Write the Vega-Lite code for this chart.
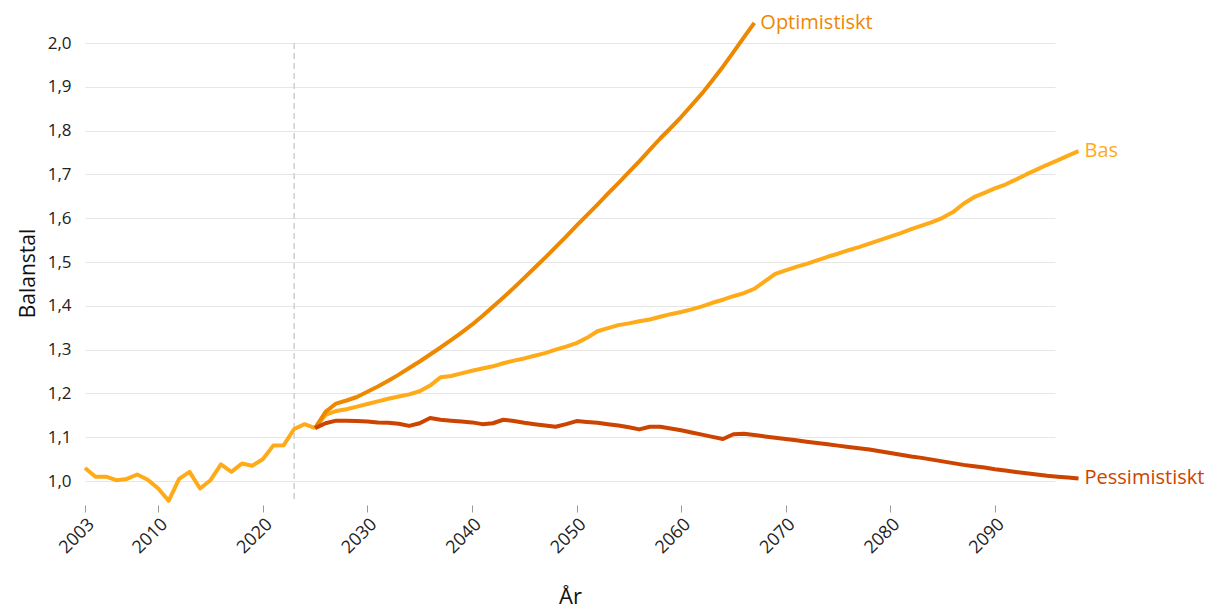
{
  "$schema": "https://vega.github.io/schema/vega-lite/v6.json",
  "width": 970,
  "height": 460,
  "autosize": "none",
  "padding": {"left": 85, "top": 43, "right": 153, "bottom": 106},
  "background": "white",
  "config": {
    "view": {"stroke": null},
    "font": "Open Sans"
  },
  "datasets": {
    "series": [
      {"year": 2003, "serie": "Historik", "value": 1.030},
      {"year": 2004, "serie": "Historik", "value": 1.010},
      {"year": 2005, "serie": "Historik", "value": 1.010},
      {"year": 2006, "serie": "Historik", "value": 1.002},
      {"year": 2007, "serie": "Historik", "value": 1.005},
      {"year": 2008, "serie": "Historik", "value": 1.015},
      {"year": 2009, "serie": "Historik", "value": 1.003},
      {"year": 2010, "serie": "Historik", "value": 0.983},
      {"year": 2011, "serie": "Historik", "value": 0.955},
      {"year": 2012, "serie": "Historik", "value": 1.005},
      {"year": 2013, "serie": "Historik", "value": 1.021},
      {"year": 2014, "serie": "Historik", "value": 0.983},
      {"year": 2015, "serie": "Historik", "value": 1.002},
      {"year": 2016, "serie": "Historik", "value": 1.038},
      {"year": 2017, "serie": "Historik", "value": 1.021},
      {"year": 2018, "serie": "Historik", "value": 1.040},
      {"year": 2019, "serie": "Historik", "value": 1.035},
      {"year": 2020, "serie": "Historik", "value": 1.050},
      {"year": 2021, "serie": "Historik", "value": 1.081},
      {"year": 2022, "serie": "Historik", "value": 1.082},
      {"year": 2023, "serie": "Historik", "value": 1.119},
      {"year": 2024, "serie": "Historik", "value": 1.130},
      {"year": 2025, "serie": "Historik", "value": 1.121},

      {"year": 2025, "serie": "Bas", "value": 1.121},
      {"year": 2026, "serie": "Bas", "value": 1.151},
      {"year": 2027, "serie": "Bas", "value": 1.160},
      {"year": 2028, "serie": "Bas", "value": 1.164},
      {"year": 2029, "serie": "Bas", "value": 1.170},
      {"year": 2030, "serie": "Bas", "value": 1.176},
      {"year": 2031, "serie": "Bas", "value": 1.182},
      {"year": 2032, "serie": "Bas", "value": 1.188},
      {"year": 2033, "serie": "Bas", "value": 1.193},
      {"year": 2034, "serie": "Bas", "value": 1.198},
      {"year": 2035, "serie": "Bas", "value": 1.205},
      {"year": 2036, "serie": "Bas", "value": 1.218},
      {"year": 2037, "serie": "Bas", "value": 1.237},
      {"year": 2038, "serie": "Bas", "value": 1.240},
      {"year": 2039, "serie": "Bas", "value": 1.246},
      {"year": 2040, "serie": "Bas", "value": 1.252},
      {"year": 2041, "serie": "Bas", "value": 1.257},
      {"year": 2042, "serie": "Bas", "value": 1.262},
      {"year": 2043, "serie": "Bas", "value": 1.269},
      {"year": 2044, "serie": "Bas", "value": 1.275},
      {"year": 2045, "serie": "Bas", "value": 1.280},
      {"year": 2046, "serie": "Bas", "value": 1.286},
      {"year": 2047, "serie": "Bas", "value": 1.292},
      {"year": 2048, "serie": "Bas", "value": 1.300},
      {"year": 2049, "serie": "Bas", "value": 1.307},
      {"year": 2050, "serie": "Bas", "value": 1.315},
      {"year": 2051, "serie": "Bas", "value": 1.327},
      {"year": 2052, "serie": "Bas", "value": 1.342},
      {"year": 2053, "serie": "Bas", "value": 1.349},
      {"year": 2054, "serie": "Bas", "value": 1.356},
      {"year": 2055, "serie": "Bas", "value": 1.360},
      {"year": 2056, "serie": "Bas", "value": 1.365},
      {"year": 2057, "serie": "Bas", "value": 1.369},
      {"year": 2058, "serie": "Bas", "value": 1.375},
      {"year": 2059, "serie": "Bas", "value": 1.381},
      {"year": 2060, "serie": "Bas", "value": 1.386},
      {"year": 2061, "serie": "Bas", "value": 1.392},
      {"year": 2062, "serie": "Bas", "value": 1.399},
      {"year": 2063, "serie": "Bas", "value": 1.407},
      {"year": 2064, "serie": "Bas", "value": 1.414},
      {"year": 2065, "serie": "Bas", "value": 1.422},
      {"year": 2066, "serie": "Bas", "value": 1.429},
      {"year": 2067, "serie": "Bas", "value": 1.439},
      {"year": 2068, "serie": "Bas", "value": 1.456},
      {"year": 2069, "serie": "Bas", "value": 1.473},
      {"year": 2070, "serie": "Bas", "value": 1.481},
      {"year": 2071, "serie": "Bas", "value": 1.489},
      {"year": 2072, "serie": "Bas", "value": 1.496},
      {"year": 2073, "serie": "Bas", "value": 1.504},
      {"year": 2074, "serie": "Bas", "value": 1.512},
      {"year": 2075, "serie": "Bas", "value": 1.519},
      {"year": 2076, "serie": "Bas", "value": 1.527},
      {"year": 2077, "serie": "Bas", "value": 1.534},
      {"year": 2078, "serie": "Bas", "value": 1.542},
      {"year": 2079, "serie": "Bas", "value": 1.550},
      {"year": 2080, "serie": "Bas", "value": 1.558},
      {"year": 2081, "serie": "Bas", "value": 1.566},
      {"year": 2082, "serie": "Bas", "value": 1.575},
      {"year": 2083, "serie": "Bas", "value": 1.583},
      {"year": 2084, "serie": "Bas", "value": 1.591},
      {"year": 2085, "serie": "Bas", "value": 1.601},
      {"year": 2086, "serie": "Bas", "value": 1.614},
      {"year": 2087, "serie": "Bas", "value": 1.633},
      {"year": 2088, "serie": "Bas", "value": 1.648},
      {"year": 2089, "serie": "Bas", "value": 1.658},
      {"year": 2090, "serie": "Bas", "value": 1.668},
      {"year": 2091, "serie": "Bas", "value": 1.677},
      {"year": 2092, "serie": "Bas", "value": 1.688},
      {"year": 2093, "serie": "Bas", "value": 1.700},
      {"year": 2094, "serie": "Bas", "value": 1.711},
      {"year": 2095, "serie": "Bas", "value": 1.722},
      {"year": 2096, "serie": "Bas", "value": 1.732},
      {"year": 2097, "serie": "Bas", "value": 1.743},
      {"year": 2098, "serie": "Bas", "value": 1.753},

      {"year": 2025, "serie": "Optimistiskt", "value": 1.121},
      {"year": 2026, "serie": "Optimistiskt", "value": 1.158},
      {"year": 2027, "serie": "Optimistiskt", "value": 1.177},
      {"year": 2028, "serie": "Optimistiskt", "value": 1.184},
      {"year": 2029, "serie": "Optimistiskt", "value": 1.192},
      {"year": 2030, "serie": "Optimistiskt", "value": 1.204},
      {"year": 2031, "serie": "Optimistiskt", "value": 1.216},
      {"year": 2032, "serie": "Optimistiskt", "value": 1.229},
      {"year": 2033, "serie": "Optimistiskt", "value": 1.243},
      {"year": 2034, "serie": "Optimistiskt", "value": 1.258},
      {"year": 2035, "serie": "Optimistiskt", "value": 1.273},
      {"year": 2036, "serie": "Optimistiskt", "value": 1.289},
      {"year": 2037, "serie": "Optimistiskt", "value": 1.305},
      {"year": 2038, "serie": "Optimistiskt", "value": 1.322},
      {"year": 2039, "serie": "Optimistiskt", "value": 1.339},
      {"year": 2040, "serie": "Optimistiskt", "value": 1.357},
      {"year": 2041, "serie": "Optimistiskt", "value": 1.377},
      {"year": 2042, "serie": "Optimistiskt", "value": 1.398},
      {"year": 2043, "serie": "Optimistiskt", "value": 1.419},
      {"year": 2044, "serie": "Optimistiskt", "value": 1.441},
      {"year": 2045, "serie": "Optimistiskt", "value": 1.464},
      {"year": 2046, "serie": "Optimistiskt", "value": 1.487},
      {"year": 2047, "serie": "Optimistiskt", "value": 1.510},
      {"year": 2048, "serie": "Optimistiskt", "value": 1.534},
      {"year": 2049, "serie": "Optimistiskt", "value": 1.558},
      {"year": 2050, "serie": "Optimistiskt", "value": 1.583},
      {"year": 2051, "serie": "Optimistiskt", "value": 1.607},
      {"year": 2052, "serie": "Optimistiskt", "value": 1.631},
      {"year": 2053, "serie": "Optimistiskt", "value": 1.656},
      {"year": 2054, "serie": "Optimistiskt", "value": 1.680},
      {"year": 2055, "serie": "Optimistiskt", "value": 1.705},
      {"year": 2056, "serie": "Optimistiskt", "value": 1.730},
      {"year": 2057, "serie": "Optimistiskt", "value": 1.756},
      {"year": 2058, "serie": "Optimistiskt", "value": 1.782},
      {"year": 2059, "serie": "Optimistiskt", "value": 1.806},
      {"year": 2060, "serie": "Optimistiskt", "value": 1.831},
      {"year": 2061, "serie": "Optimistiskt", "value": 1.858},
      {"year": 2062, "serie": "Optimistiskt", "value": 1.885},
      {"year": 2063, "serie": "Optimistiskt", "value": 1.915},
      {"year": 2064, "serie": "Optimistiskt", "value": 1.946},
      {"year": 2065, "serie": "Optimistiskt", "value": 1.979},
      {"year": 2066, "serie": "Optimistiskt", "value": 2.013},
      {"year": 2067, "serie": "Optimistiskt", "value": 2.046},

      {"year": 2025, "serie": "Pessimistiskt", "value": 1.121},
      {"year": 2026, "serie": "Pessimistiskt", "value": 1.132},
      {"year": 2027, "serie": "Pessimistiskt", "value": 1.138},
      {"year": 2028, "serie": "Pessimistiskt", "value": 1.138},
      {"year": 2029, "serie": "Pessimistiskt", "value": 1.137},
      {"year": 2030, "serie": "Pessimistiskt", "value": 1.136},
      {"year": 2031, "serie": "Pessimistiskt", "value": 1.134},
      {"year": 2032, "serie": "Pessimistiskt", "value": 1.133},
      {"year": 2033, "serie": "Pessimistiskt", "value": 1.131},
      {"year": 2034, "serie": "Pessimistiskt", "value": 1.126},
      {"year": 2035, "serie": "Pessimistiskt", "value": 1.132},
      {"year": 2036, "serie": "Pessimistiskt", "value": 1.144},
      {"year": 2037, "serie": "Pessimistiskt", "value": 1.140},
      {"year": 2038, "serie": "Pessimistiskt", "value": 1.138},
      {"year": 2039, "serie": "Pessimistiskt", "value": 1.136},
      {"year": 2040, "serie": "Pessimistiskt", "value": 1.134},
      {"year": 2041, "serie": "Pessimistiskt", "value": 1.130},
      {"year": 2042, "serie": "Pessimistiskt", "value": 1.132},
      {"year": 2043, "serie": "Pessimistiskt", "value": 1.140},
      {"year": 2044, "serie": "Pessimistiskt", "value": 1.137},
      {"year": 2045, "serie": "Pessimistiskt", "value": 1.133},
      {"year": 2046, "serie": "Pessimistiskt", "value": 1.130},
      {"year": 2047, "serie": "Pessimistiskt", "value": 1.127},
      {"year": 2048, "serie": "Pessimistiskt", "value": 1.124},
      {"year": 2049, "serie": "Pessimistiskt", "value": 1.130},
      {"year": 2050, "serie": "Pessimistiskt", "value": 1.137},
      {"year": 2051, "serie": "Pessimistiskt", "value": 1.135},
      {"year": 2052, "serie": "Pessimistiskt", "value": 1.133},
      {"year": 2053, "serie": "Pessimistiskt", "value": 1.130},
      {"year": 2054, "serie": "Pessimistiskt", "value": 1.127},
      {"year": 2055, "serie": "Pessimistiskt", "value": 1.123},
      {"year": 2056, "serie": "Pessimistiskt", "value": 1.118},
      {"year": 2057, "serie": "Pessimistiskt", "value": 1.124},
      {"year": 2058, "serie": "Pessimistiskt", "value": 1.124},
      {"year": 2059, "serie": "Pessimistiskt", "value": 1.120},
      {"year": 2060, "serie": "Pessimistiskt", "value": 1.116},
      {"year": 2061, "serie": "Pessimistiskt", "value": 1.111},
      {"year": 2062, "serie": "Pessimistiskt", "value": 1.106},
      {"year": 2063, "serie": "Pessimistiskt", "value": 1.101},
      {"year": 2064, "serie": "Pessimistiskt", "value": 1.096},
      {"year": 2065, "serie": "Pessimistiskt", "value": 1.107},
      {"year": 2066, "serie": "Pessimistiskt", "value": 1.108},
      {"year": 2067, "serie": "Pessimistiskt", "value": 1.105},
      {"year": 2068, "serie": "Pessimistiskt", "value": 1.102},
      {"year": 2069, "serie": "Pessimistiskt", "value": 1.099},
      {"year": 2070, "serie": "Pessimistiskt", "value": 1.096},
      {"year": 2071, "serie": "Pessimistiskt", "value": 1.093},
      {"year": 2072, "serie": "Pessimistiskt", "value": 1.090},
      {"year": 2073, "serie": "Pessimistiskt", "value": 1.087},
      {"year": 2074, "serie": "Pessimistiskt", "value": 1.084},
      {"year": 2075, "serie": "Pessimistiskt", "value": 1.081},
      {"year": 2076, "serie": "Pessimistiskt", "value": 1.078},
      {"year": 2077, "serie": "Pessimistiskt", "value": 1.075},
      {"year": 2078, "serie": "Pessimistiskt", "value": 1.072},
      {"year": 2079, "serie": "Pessimistiskt", "value": 1.068},
      {"year": 2080, "serie": "Pessimistiskt", "value": 1.064},
      {"year": 2081, "serie": "Pessimistiskt", "value": 1.060},
      {"year": 2082, "serie": "Pessimistiskt", "value": 1.056},
      {"year": 2083, "serie": "Pessimistiskt", "value": 1.053},
      {"year": 2084, "serie": "Pessimistiskt", "value": 1.049},
      {"year": 2085, "serie": "Pessimistiskt", "value": 1.045},
      {"year": 2086, "serie": "Pessimistiskt", "value": 1.041},
      {"year": 2087, "serie": "Pessimistiskt", "value": 1.037},
      {"year": 2088, "serie": "Pessimistiskt", "value": 1.034},
      {"year": 2089, "serie": "Pessimistiskt", "value": 1.031},
      {"year": 2090, "serie": "Pessimistiskt", "value": 1.027},
      {"year": 2091, "serie": "Pessimistiskt", "value": 1.024},
      {"year": 2092, "serie": "Pessimistiskt", "value": 1.021},
      {"year": 2093, "serie": "Pessimistiskt", "value": 1.018},
      {"year": 2094, "serie": "Pessimistiskt", "value": 1.015},
      {"year": 2095, "serie": "Pessimistiskt", "value": 1.012},
      {"year": 2096, "serie": "Pessimistiskt", "value": 1.010},
      {"year": 2097, "serie": "Pessimistiskt", "value": 1.008},
      {"year": 2098, "serie": "Pessimistiskt", "value": 1.006}
    ],
    "marker": [{"year": 2023}]
  },
  "layer": [
    {
      "data": {"name": "marker"},
      "mark": {"type": "rule", "color": "#cfcfcf", "strokeWidth": 1.5, "strokeDash": [6, 4]},
      "encoding": {
        "x": {"field": "year", "type": "quantitative", "scale": {"domain": [2003, 2095.75], "nice": false, "zero": false}}
      }
    },
    {
      "data": {"name": "series"},
      "mark": {"type": "line", "strokeWidth": 4, "clip": false, "strokeJoin": "round", "strokeCap": "butt"},
      "encoding": {
        "x": {
          "field": "year", "type": "quantitative",
          "scale": {"domain": [2003, 2095.75], "nice": false, "zero": false},
          "axis": {
            "title": "År", "titleFont": "Open Sans", "titleFontSize": 22, "titleFontWeight": "normal", "titleColor": "#111",
            "titlePadding": 30,
            "values": [2003, 2010, 2020, 2030, 2040, 2050, 2060, 2070, 2080, 2090],
            "format": "d", "labelAngle": -45, "labelFontSize": 18, "labelColor": "#222", "labelFont": "Open Sans",
            "grid": false, "domain": false, "ticks": true, "tickColor": "#999", "tickSize": 7, "tickWidth": 1, "tickOffset": 0,
            "offset": 2, "labelPadding": 3
          }
        },
        "y": {
          "field": "value", "type": "quantitative",
          "scale": {"domain": [0.95, 2.0], "nice": false, "zero": false},
          "axis": {
            "title": "Balanstal", "titleFont": "Open Sans", "titleFontSize": 21, "titleFontWeight": "normal", "titleColor": "#111",
            "titlePadding": 9,
            "values": [1.0, 1.1, 1.2, 1.3, 1.4, 1.5, 1.6, 1.7, 1.8, 1.9, 2.0],
            "labelExpr": "replace(format(datum.value, '.1f'), '.', ',')",
            "labelFontSize": 17, "labelColor": "#222", "labelFont": "Open Sans", "labelPadding": 14,
            "grid": true, "gridColor": "#e6e6e6", "gridWidth": 1.2,
            "domain": false, "ticks": false
          }
        },
        "color": {
          "field": "serie", "type": "nominal", "legend": null,
          "scale": {"domain": ["Historik", "Bas", "Optimistiskt", "Pessimistiskt"], "range": ["#FFAB19", "#FFAB19", "#EE8800", "#CC4400"]}
        }
      }
    },
    {
      "data": {"name": "series"},
      "transform": [
        {"filter": "datum.serie !== 'Historik'"},
        {"joinaggregate": [{"op": "max", "field": "year", "as": "maxYear"}], "groupby": ["serie"]},
        {"filter": "datum.year === datum.maxYear"}
      ],
      "mark": {"type": "text", "align": "left", "baseline": "middle", "dx": 6, "fontSize": 20, "font": "Open Sans", "clip": false},
      "encoding": {
        "x": {"field": "year", "type": "quantitative"},
        "y": {"field": "value", "type": "quantitative"},
        "text": {"field": "serie"},
        "color": {"field": "serie", "type": "nominal", "legend": null}
      }
    }
  ]
}
